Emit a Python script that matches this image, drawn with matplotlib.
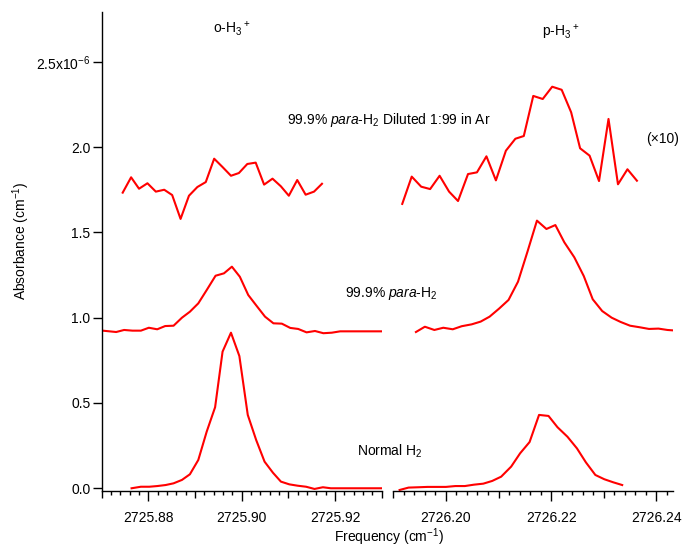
import matplotlib
matplotlib.use('Agg')
import matplotlib.pyplot as plt
import numpy as np
from matplotlib.ticker import FixedLocator, FixedFormatter

plt.rcParams['font.family'] = ['Liberation Sans', 'DejaVu Sans']
plt.rcParams['mathtext.fontset'] = 'custom'
plt.rcParams['mathtext.rm'] = 'Liberation Sans'
plt.rcParams['mathtext.it'] = 'Liberation Sans:italic'
plt.rcParams['mathtext.bf'] = 'Liberation Sans:bold'

# ---------------- data (absorbance in units of 1e-6 cm^-1) ----------------
# Normal H2
normal_left_x = [2725.8764, 2725.8784, 2725.8802, 2725.8819, 2725.8837, 2725.8854, 2725.8872,
                 2725.8889, 2725.8907, 2725.8925, 2725.8943, 2725.8959, 2725.8977, 2725.8995,
                 2725.9013, 2725.9031, 2725.9049, 2725.9067, 2725.9084, 2725.9102, 2725.9120,
                 2725.9138, 2725.9156, 2725.9174, 2725.9191, 2725.9209, 2725.9227, 2725.9245,
                 2725.9263, 2725.9281, 2725.9299]
normal_left_y = [0.000, 0.009, 0.009, 0.013, 0.019, 0.029, 0.049, 0.082, 0.166, 0.332, 0.475,
                 0.801, 0.912, 0.775, 0.430, 0.283, 0.156, 0.091, 0.039, 0.023, 0.015, 0.009,
                 -0.004, 0.006, 0.000, 0.000, 0.000, 0.000, 0.000, 0.000, 0.000]
normal_right_x = [2726.1912, 2726.1929, 2726.1948, 2726.1965, 2726.1982, 2726.2000, 2726.2018,
                  2726.2036, 2726.2053, 2726.2071, 2726.2088, 2726.2105, 2726.2124, 2726.2141,
                  2726.2159, 2726.2177, 2726.2195, 2726.2212, 2726.2231, 2726.2249, 2726.2266,
                  2726.2284, 2726.2301, 2726.2318, 2726.2335]
normal_right_y = [-0.010, 0.004, 0.006, 0.008, 0.008, 0.008, 0.013, 0.013, 0.021, 0.027, 0.043,
                  0.068, 0.127, 0.205, 0.271, 0.430, 0.424, 0.358, 0.302, 0.234, 0.152, 0.078,
                  0.053, 0.035, 0.019]

# 99.9% para-H2
para_left_x = [2725.8702, 2725.8731, 2725.8748, 2725.8766, 2725.8784, 2725.8801, 2725.8819,
               2725.8836, 2725.8854, 2725.8872, 2725.8889, 2725.8907, 2725.8925, 2725.8944,
               2725.8962, 2725.8979, 2725.8996, 2725.9014, 2725.9032, 2725.9050, 2725.9068,
               2725.9086, 2725.9104, 2725.9121, 2725.9139, 2725.9157, 2725.9175, 2725.9193,
               2725.9211, 2725.9229, 2725.9247, 2725.9264, 2725.9282, 2725.9300]
para_left_y = [0.924, 0.916, 0.928, 0.924, 0.924, 0.941, 0.932, 0.951, 0.953, 1.000, 1.035,
               1.084, 1.162, 1.246, 1.260, 1.299, 1.240, 1.133, 1.069, 1.006, 0.967, 0.965,
               0.940, 0.934, 0.914, 0.922, 0.909, 0.912, 0.920, 0.920, 0.920, 0.920, 0.920, 0.920]
para_right_x = [2726.1943, 2726.1960, 2726.1978, 2726.1995, 2726.2013, 2726.2030, 2726.2049,
                2726.2066, 2726.2083, 2726.2101, 2726.2119, 2726.2137, 2726.2155, 2726.2173,
                2726.2191, 2726.2208, 2726.2225, 2726.2244, 2726.2262, 2726.2279, 2726.2297,
                2726.2315, 2726.2332, 2726.2350, 2726.2368, 2726.2386, 2726.2404, 2726.2421,
                2726.2439]
para_right_y = [0.916, 0.947, 0.928, 0.941, 0.932, 0.950, 0.961, 0.977, 1.006, 1.053, 1.104,
                1.211, 1.387, 1.569, 1.520, 1.543, 1.442, 1.354, 1.244, 1.108, 1.039, 1.000,
                0.975, 0.953, 0.944, 0.934, 0.936, 0.928, 0.924]

# 99.9% para-H2 diluted 1:99 in Ar (x10)
dil_left_x = [2725.8745, 2725.8763, 2725.8780, 2725.8798, 2725.8816, 2725.8834, 2725.8851,
              2725.8869, 2725.8887, 2725.8905, 2725.8923, 2725.8941, 2725.8959, 2725.8977,
              2725.8994, 2725.9012, 2725.9030, 2725.9048, 2725.9066, 2725.9084, 2725.9101,
              2725.9119, 2725.9137, 2725.9155, 2725.9172]
dil_left_y = [1.733, 1.823, 1.756, 1.788, 1.739, 1.750, 1.719, 1.579, 1.715, 1.766, 1.795,
              1.932, 1.883, 1.832, 1.848, 1.901, 1.909, 1.780, 1.815, 1.770, 1.715, 1.807,
              1.721, 1.739, 1.785]
dil_right_x = [2726.1917, 2726.1935, 2726.1953, 2726.1970, 2726.1988, 2726.2006, 2726.2023,
               2726.2042, 2726.2059, 2726.2077, 2726.2095, 2726.2114, 2726.2132, 2726.2148,
               2726.2166, 2726.2184, 2726.2202, 2726.2220, 2726.2238, 2726.2255, 2726.2273,
               2726.2291, 2726.2309, 2726.2327, 2726.2345, 2726.2363]
dil_right_y = [1.667, 1.827, 1.768, 1.754, 1.832, 1.739, 1.684, 1.842, 1.852, 1.946, 1.805,
               1.979, 2.049, 2.065, 2.300, 2.282, 2.354, 2.336, 2.204, 1.993, 1.950, 1.801,
               2.165, 1.782, 1.870, 1.803]

y_ticks = [0.0, 0.5, 1.0, 1.5, 2.0, 2.5]
y_ticklabels = ['0.0', '0.5', '1.0', '1.5', '2.0', r'2.5x10$^{-6}$']
left_xlim = (2725.870, 2725.930)
right_xlim = (2726.190, 2726.2431)

# ---------------- figure ----------------
W, H = 686, 550
fig = plt.figure(figsize=(W / 100, H / 100), dpi=100)

def fx(px):
    return px / W

def fy(py):
    return 1 - py / H

ax_bottom, ax_top = 491, 12
ax1 = fig.add_axes([fx(101.7), fy(ax_bottom), (381.7 - 101.7) / W, (ax_bottom - ax_top) / H])
ax2 = fig.add_axes([fx(393.3), fy(ax_bottom), (672.7 - 393.3) / W, (ax_bottom - ax_top) / H])

red = '#ff0000'
lw = 1.5
ax1.plot(normal_left_x, normal_left_y, color=red, lw=lw)
ax1.plot(para_left_x, para_left_y, color=red, lw=lw)
ax1.plot(dil_left_x, dil_left_y, color=red, lw=lw)
ax2.plot(normal_right_x, normal_right_y, color=red, lw=lw)
ax2.plot(para_right_x, para_right_y, color=red, lw=lw)
ax2.plot(dil_right_x, dil_right_y, color=red, lw=lw)

ymin, ymax = -0.016, 2.792
for ax, xl in ((ax1, left_xlim), (ax2, right_xlim)):
    ax.set_xlim(*xl)
    ax.set_ylim(ymin, ymax)
    ax.spines['top'].set_visible(False)
    ax.spines['right'].set_visible(False)
    ax.spines['bottom'].set_linewidth(1.0)
    ax.spines['left'].set_linewidth(1.0)
    ax.patch.set_alpha(0)
    start = np.ceil(xl[0] / 0.01 - 1e-6) * 0.01
    majors = np.round(np.arange(start, xl[1] + 1e-6, 0.01), 2)
    minors = np.round(np.arange(np.ceil(xl[0] / 0.002 - 1e-6) * 0.002, xl[1] + 1e-6, 0.002), 3)
    minors = [m for m in minors if abs(m * 100 - round(m * 100)) > 1e-3]
    labels = ['%.2f' % m if int(round(m * 100)) % 2 == 0 else '' for m in majors]
    ax.xaxis.set_major_locator(FixedLocator(majors))
    ax.xaxis.set_major_formatter(FixedFormatter(labels))
    ax.xaxis.set_minor_locator(FixedLocator(minors))
    ax.tick_params(axis='x', which='major', direction='out', length=7.2, width=1.0,
                   pad=7, labelsize=10, colors='black')
    ax.tick_params(axis='x', which='minor', direction='out', length=2.9, width=1.0)
    for lab, tick in zip(labels, ax.xaxis.get_major_ticks()):
        if lab == '':
            tick.tick1line.set_markersize(4.7)

ax1.set_yticks(y_ticks)
ax1.set_yticklabels(y_ticklabels)
ax1.tick_params(axis='y', which='major', direction='out', length=6.7, width=1.0, pad=1.5,
                labelsize=10)
ax2.spines['left'].set_visible(False)
ax2.set_yticks([])

fs = 10
fig.text(fx(213), fy(33), r'o-H$_3{}^+$', ha='left', va='baseline', fontsize=fs)
fig.text(fx(541.7), fy(36.5), r'p-H$_3{}^+$', ha='left', va='baseline', fontsize=fs)
fig.text(fx(287.3), fy(124), r'99.9% $\mathit{para}$-H$_2$ Diluted 1:99 in Ar', ha='left',
         va='baseline', fontsize=fs)
fig.text(fx(646), fy(143), '(×10)', ha='left', va='baseline', fontsize=fs)
fig.text(fx(345), fy(297), r'99.9% $\mathit{para}$-H$_2$', ha='left', va='baseline', fontsize=fs)
fig.text(fx(357.3), fy(456), r'Normal H$_2$', ha='left', va='baseline', fontsize=fs)
fig.text(fx(21), fy(241), r'Absorbance (cm$^{-1}$)', rotation=90, ha='center', va='center',
         fontsize=fs)
fig.text(fx(389), fy(537), r'Frequency (cm$^{-1}$)', ha='center', va='center', fontsize=fs)

fig.savefig('out.png', dpi=100)
